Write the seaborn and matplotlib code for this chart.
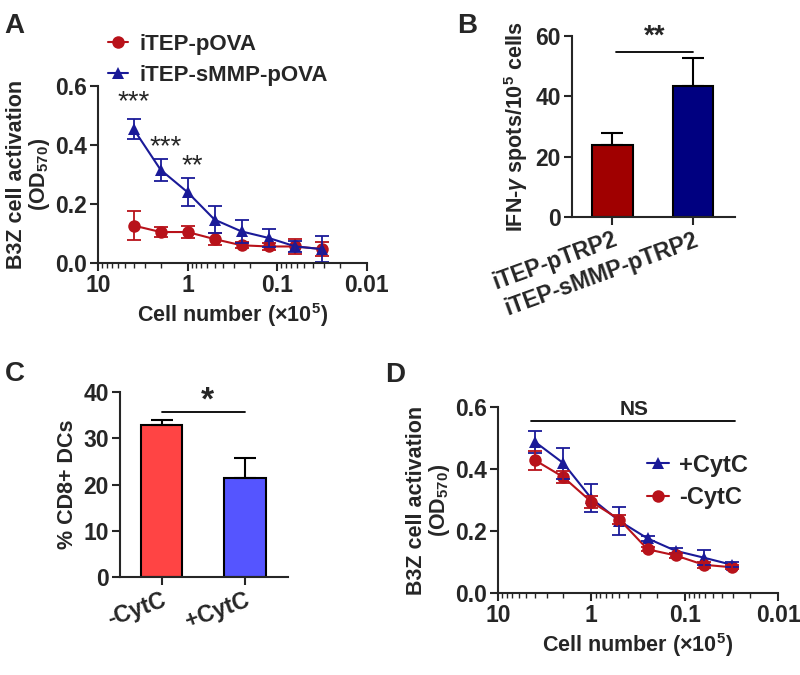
import numpy as np
import pandas as pd
import seaborn as sns
import matplotlib
matplotlib.use('Agg')
import matplotlib.pyplot as plt
from matplotlib.ticker import LogLocator, FixedLocator, NullFormatter

# ---------------- data ----------------
cells = [4, 2, 1, 0.5, 0.25, 0.125, 0.0625, 0.03125]

# panel A
a_pova = [0.127, 0.105, 0.105, 0.081, 0.060, 0.056, 0.056, 0.047]
a_pova_err = [0.048, 0.016, 0.019, 0.020, 0.010, 0.012, 0.025, 0.024]
a_smmp = [0.454, 0.316, 0.240, 0.147, 0.107, 0.085, 0.056, 0.047]
a_smmp_err = [0.034, 0.037, 0.048, 0.045, 0.040, 0.030, 0.020, 0.045]

# panel B
b_groups = ['iTEP-pTRP2', 'iTEP-sMMP-pTRP2']
b_vals = [23.8, 43.4]
b_err = [3.9, 9.4]

# panel C
c_groups = ['-CytC', '+CytC']
c_vals = [32.9, 21.4]
c_err = [1.0, 4.3]

# panel D
d_plus = [0.487, 0.419, 0.305, 0.232, 0.176, 0.136, 0.114, 0.091]
d_plus_err = [0.035, 0.050, 0.045, 0.045, 0.008, 0.008, 0.025, 0.008]
d_minus = [0.428, 0.374, 0.294, 0.237, 0.141, 0.121, 0.091, 0.083]
d_minus_err = [0.030, 0.020, 0.020, 0.015, 0.006, 0.008, 0.010, 0.006]

# ---------------- style ----------------
sns.set_theme(style='ticks')
plt.rcParams['font.family'] = ['Liberation Sans', 'DejaVu Sans']
plt.rcParams['font.weight'] = 'bold'
plt.rcParams['axes.labelweight'] = 'bold'
plt.rcParams['mathtext.fontset'] = 'custom'
plt.rcParams['mathtext.rm'] = 'Liberation Sans:bold'
plt.rcParams['mathtext.it'] = 'Liberation Sans:italic'
plt.rcParams['mathtext.bf'] = 'Liberation Sans:bold'
plt.rcParams['axes.linewidth'] = 1.5
plt.rcParams['xtick.major.width'] = 1.5
plt.rcParams['ytick.major.width'] = 1.5
plt.rcParams['xtick.minor.width'] = 1.0
plt.rcParams['xtick.major.size'] = 6
plt.rcParams['ytick.major.size'] = 6
plt.rcParams['xtick.minor.size'] = 3.5

RED_L = '#B8121A'
BLUE_L = '#1A1A98'

fig = plt.figure(figsize=(8, 6.75), dpi=100)
axA = fig.add_axes([0.1225, 0.6104, 0.336, 0.262])
axB = fig.add_axes([0.715, 0.6785, 0.204, 0.268])
axC = fig.add_axes([0.150, 0.145, 0.210, 0.274])
axD = fig.add_axes([0.6225, 0.1215, 0.350, 0.2756])

TICK_FS = 16.5
LAB_FS = 15.5


def style_log_axis(ax):
    ax.set_xscale('log')
    ax.set_xlim(10, 0.01)
    ax.xaxis.set_major_locator(FixedLocator([10, 1, 0.1, 0.01]))
    ax.set_xticklabels(['10', '1', '0.1', '0.01'])
    ax.xaxis.set_minor_locator(LogLocator(base=10, subs=np.arange(2, 10)))
    ax.xaxis.set_minor_formatter(NullFormatter())
    ax.set_ylim(0, 0.6)
    ax.set_yticks([0, 0.2, 0.4, 0.6])
    ax.set_yticklabels(['0.0', '0.2', '0.4', '0.6'])
    ax.tick_params(labelsize=TICK_FS, pad=2)
    for lab in ax.get_xticklabels() + ax.get_yticklabels():
        lab.set_fontweight('bold')
    ax.set_ylabel('B3Z cell activation\n(OD$_{570}$)', fontsize=LAB_FS, labelpad=2,
                  linespacing=1.0)
    ax.set_xlabel(r'Cell number ($\times$10$^5$)', fontsize=LAB_FS, labelpad=3)
    sns.despine(ax=ax)


# ---------------- panel A ----------------
dfA = pd.DataFrame({
    'cells': cells * 2,
    'od': a_pova + a_smmp,
    'group': ['iTEP-pOVA'] * len(cells) + ['iTEP-sMMP-pOVA'] * len(cells),
})
axA.set_xscale('log')
sns.lineplot(data=dfA, x='cells', y='od', hue='group', style='group',
             markers={'iTEP-pOVA': 'o', 'iTEP-sMMP-pOVA': '^'}, dashes=False,
             palette={'iTEP-pOVA': RED_L, 'iTEP-sMMP-pOVA': BLUE_L},
             markersize=9, markeredgewidth=0, linewidth=1.5, ax=axA)
axA.errorbar(cells, a_pova, yerr=a_pova_err, fmt='none', ecolor=RED_L,
             elinewidth=1.3, capsize=5, capthick=1.3)
axA.errorbar(cells, a_smmp, yerr=a_smmp_err, fmt='none', ecolor=BLUE_L,
             elinewidth=1.3, capsize=5, capthick=1.3)
style_log_axis(axA)
axA.text(4, 0.50, '***', ha='center', va='bottom', fontsize=20, fontweight='normal')
axA.text(1.75, 0.35, '***', ha='center', va='bottom', fontsize=20, fontweight='normal')
axA.text(0.88, 0.285, '**', ha='center', va='bottom', fontsize=20, fontweight='normal')
legA = axA.legend(loc='lower left', bbox_to_anchor=(0.004, 0.952), frameon=False,
                  fontsize=16, handlelength=0.9, handletextpad=0.5,
                  labelspacing=0.45, borderaxespad=0)
for t in legA.get_texts():
    t.set_fontweight('bold')

# ---------------- panel B ----------------
dfB = pd.DataFrame({'group': b_groups, 'val': b_vals})
sns.barplot(data=dfB, x='group', y='val', hue='group',
            palette=['#A00000', '#000080'], saturation=1, width=0.5,
            edgecolor='black', linewidth=1.5, legend=False, ax=axB)
axB.errorbar([0, 1], b_vals, yerr=[[0, 0], b_err], fmt='none', ecolor='black',
             elinewidth=1.5, capsize=8, capthick=1.5)
axB.set_xlim(-0.5, 1.52)
axB.set_ylim(0, 60)
axB.set_yticks([0, 20, 40, 60])
axB.set_xlabel('')
axB.set_ylabel(r'IFN-$\gamma$ spots/10$^5$ cells', fontsize=LAB_FS, labelpad=4)
axB.tick_params(labelsize=TICK_FS, pad=2)
axB.set_xticks([0, 1])
axB.set_xticklabels(b_groups, rotation=20, ha='right', rotation_mode='anchor',
                    fontsize=16.5, fontweight='bold')
for lab in axB.get_yticklabels():
    lab.set_fontweight('bold')
sns.despine(ax=axB)
axB.plot([0.04, 1.0], [54.8, 54.8], color='black', lw=1.3)
axB.text(0.52, 55.5, '**', ha='center', va='bottom', fontsize=20, fontweight='bold')

# ---------------- panel C ----------------
dfC = pd.DataFrame({'group': c_groups, 'val': c_vals})
sns.barplot(data=dfC, x='group', y='val', hue='group',
            palette=['#FF4444', '#5555FF'], saturation=1, width=0.5,
            edgecolor='black', linewidth=1.5, legend=False, ax=axC)
axC.errorbar([0, 1], c_vals, yerr=[[0, 0], c_err], fmt='none', ecolor='black',
             elinewidth=1.5, capsize=8, capthick=1.5)
axC.set_xlim(-0.5, 1.52)
axC.set_ylim(0, 40)
axC.set_yticks([0, 10, 20, 30, 40])
axC.set_xlabel('')
axC.set_ylabel('% CD8+ DCs', fontsize=LAB_FS, labelpad=4)
axC.tick_params(labelsize=TICK_FS, pad=2)
axC.set_xticks([0, 1])
axC.set_xticklabels(c_groups, rotation=20, ha='right', rotation_mode='anchor',
                    fontsize=16.5, fontweight='bold')
for lab in axC.get_yticklabels():
    lab.set_fontweight('bold')
sns.despine(ax=axC)
axC.plot([0.0, 1.0], [35.7, 35.7], color='black', lw=1.3)
axC.text(0.55, 34.8, '*', ha='center', va='bottom', fontsize=24, fontweight='bold')

# ---------------- panel D ----------------
dfD = pd.DataFrame({
    'cells': cells * 2,
    'od': d_plus + d_minus,
    'group': ['+CytC'] * len(cells) + ['-CytC'] * len(cells),
})
axD.set_xscale('log')
sns.lineplot(data=dfD, x='cells', y='od', hue='group', style='group',
             markers={'+CytC': '^', '-CytC': 'o'}, dashes=False,
             palette={'+CytC': BLUE_L, '-CytC': RED_L},
             markersize=9, markeredgewidth=0, linewidth=1.5, ax=axD)
axD.errorbar(cells, d_plus, yerr=d_plus_err, fmt='none', ecolor=BLUE_L,
             elinewidth=1.3, capsize=5, capthick=1.3)
axD.errorbar(cells, d_minus, yerr=d_minus_err, fmt='none', ecolor=RED_L,
             elinewidth=1.3, capsize=5, capthick=1.3)
style_log_axis(axD)
axD.plot([4.4, 0.029], [0.556, 0.556], color='black', lw=1.3)
axD.text(0.35, 0.562, 'NS', ha='center', va='bottom', fontsize=15, fontweight='bold')
legD = axD.legend(loc='center left', bbox_to_anchor=(0.50, 0.60), frameon=False,
                  fontsize=17, handlelength=0.9, handletextpad=0.45,
                  labelspacing=0.4, borderaxespad=0)
for t in legD.get_texts():
    t.set_fontweight('bold')

# panel letters
for lbl, x, y in [('A', 0.006, 0.962), ('B', 0.572, 0.962), ('C', 0.006, 0.446), ('D', 0.481, 0.445)]:
    fig.text(x, y, lbl, fontsize=20, fontweight='bold', ha='left', va='center')

fig.savefig('out.png', dpi=100)
